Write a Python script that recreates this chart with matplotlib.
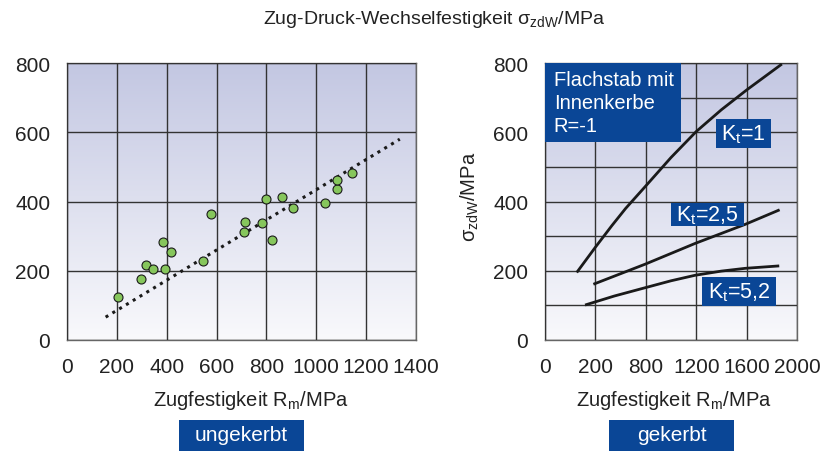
import numpy as np
import matplotlib
matplotlib.use("Agg")
import matplotlib.pyplot as plt
from matplotlib import font_manager
from matplotlib.colors import LinearSegmentedColormap
from matplotlib.patches import Rectangle

# ---------------- data ----------------
# left: unnotched specimens (scatter) and fitted trend line
rm_points = [206, 296, 316, 345, 385, 392, 416, 545, 577, 711, 716, 783,
             800, 821, 863, 906, 1034, 1083, 1083, 1145]
szdw_points = [123, 175, 216, 204, 283, 204, 254, 227, 363, 313, 342, 337,
               408, 289, 414, 380, 395, 437, 462, 482]
trend_rm = [155, 1335]
trend_szdw = [66, 580]

# right: notched flat bar, curves per Kt
kt1_rm = [252, 400, 530, 640, 800, 1000, 1200, 1400, 1600, 1880]
kt1_s = [195, 268, 330, 380, 445, 527, 602, 665, 722, 797]
kt25_rm = [384, 795, 1192, 1589, 1862]
kt25_s = [161, 219, 279, 334, 376]
kt52_rm = [318, 550, 795, 1000, 1192, 1400, 1589, 1859]
kt52_s = [101, 127, 151, 171, 187, 199, 207, 214]

left_xticks = [0, 200, 400, 600, 800, 1000, 1200, 1400]
left_xticklabels = ["0", "200", "400", "600", "800", "1000", "1200", "1400"]
yticks = [0, 200, 400, 600, 800]
yticklabels = ["0", "200", "400", "600", "800"]
right_xticks = [0, 400, 800, 1200, 1600, 2000]
right_xticklabels = ["0", "200", "800", "1200", "1600", "2000"]

title_text = r"Zug-Druck-Wechselfestigkeit σ$_{\mathrm{zdW}}$/MPa"
xlabel_text = r"Zugfestigkeit R$_{\mathrm{m}}$/MPa"
ylabel_text = r"σ$_{\mathrm{zdW}}$/MPa"
box_text = "Flachstab mit\nInnenkerbe\nR=-1"
kt_labels = [r"K$_{\mathrm{t}}$=1", r"K$_{\mathrm{t}}$=2,5", r"K$_{\mathrm{t}}$=5,2"]
bottom_labels = ["ungekerbt", "gekerbt"]

# ---------------- fonts ----------------
def has_font(name):
    try:
        font_manager.findfont(font_manager.FontProperties(family=name),
                              fallback_to_default=False)
        return True
    except Exception:
        return False

main_font = "Liberation Sans" if has_font("Liberation Sans") else "DejaVu Sans"

plt.rcParams["font.family"] = [main_font, "DejaVu Sans"]
plt.rcParams["mathtext.fontset"] = "custom"
plt.rcParams["mathtext.rm"] = main_font
plt.rcParams["mathtext.it"] = main_font + ":italic"
plt.rcParams["mathtext.bf"] = main_font + ":bold"
plt.rcParams["mathtext.sf"] = main_font

BLUE = "#0a4696"
GRID = "#333333"
TXT = "#222222"

fig = plt.figure(figsize=(8.39, 4.52), dpi=100)
W, H = 839.0, 452.0

def px_axes(x0, x1, y0, y1):
    return fig.add_axes([x0 / W, 1 - y1 / H, (x1 - x0) / W, (y1 - y0) / H])

cmap = LinearSegmentedColormap.from_list("bg", ["#f9f9fc", "#c3c7e2"])

def style_axes(ax):
    grad = np.linspace(0, 1, 256)[:, None]
    ax.imshow(grad, extent=[0, 1, 0, 1], transform=ax.transAxes, origin="lower",
              aspect="auto", cmap=cmap, zorder=0, interpolation="bicubic")
    for s in ax.spines.values():
        s.set_color("#666666")
        s.set_linewidth(1.0)
    ax.tick_params(length=0, labelsize=15, colors=TXT, pad=12)
    ax.grid(True, which="both", color=GRID, linewidth=1.0, zorder=1)
    ax.set_axisbelow(False)

# ---------------- left panel ----------------
axL = px_axes(67, 416, 64, 341)
style_axes(axL)
axL.plot(trend_rm, trend_szdw, color="#1a1a1a", linestyle=(0, (1, 1.6)),
         linewidth=2.2, zorder=3)
axL.scatter(rm_points, szdw_points, s=42, facecolor="#86c65c", edgecolor="#1a1a1a",
            linewidth=0.8, zorder=4)
axL.set_xlim(0, 1400)
axL.set_ylim(0, 800)
axL.set_xticks(left_xticks)
axL.set_xticklabels(left_xticklabels)
axL.set_yticks(yticks)
axL.set_yticklabels(yticklabels)

# ---------------- right panel ----------------
axR = px_axes(545, 797, 64, 341)
style_axes(axR)
for xs, ys in [(kt1_rm, kt1_s), (kt25_rm, kt25_s), (kt52_rm, kt52_s)]:
    axR.plot(xs, ys, color="#1a1a1a", linewidth=2.0, solid_capstyle="butt", zorder=3)
axR.set_xlim(0, 2000)
axR.set_ylim(0, 800)
axR.set_xticks(right_xticks)
axR.set_xticklabels(right_xticklabels)
axR.set_yticks(yticks)
axR.set_yticklabels(yticklabels)
axR.set_yticks(np.arange(100, 800, 200), minor=True)
axR.tick_params(which="minor", length=0)

# boxes inside right panel (axes fractions)
def box(ax, x0, x1, y0, y1, text, fs, ha="center", tx=None, ls=1.2):
    ax.add_patch(Rectangle((x0, y0), x1 - x0, y1 - y0, transform=ax.transAxes,
                           facecolor=BLUE, edgecolor="none", zorder=5, clip_on=False))
    if tx is None:
        tx = (x0 + x1) / 2
    ax.text(tx, (y0 + y1) / 2, text, transform=ax.transAxes, ha=ha, va="center",
            color="white", fontsize=fs, zorder=6, linespacing=ls)

box(axR, 0.0, 0.54, 0.715, 1.0, box_text, 14.5, ha="left", tx=0.035, ls=1.25)
box(axR, 0.679, 0.897, 0.693, 0.798, kt_labels[0], 15.5)
box(axR, 0.50, 0.79, 0.412, 0.495, kt_labels[1], 15.5)
box(axR, 0.623, 0.917, 0.123, 0.227, kt_labels[2], 15.5)

# ---------------- texts ----------------
fig.text(434.5 / W, 1 - 19 / H, title_text, ha="center", va="center",
         fontsize=14, color=TXT)
fig.text(251 / W, 1 - 401 / H, xlabel_text, ha="center", va="center",
         fontsize=14.5, color=TXT)
fig.text(674 / W, 1 - 401 / H, xlabel_text, ha="center", va="center",
         fontsize=14.5, color=TXT)
fig.text(470 / W, 1 - 197 / H, ylabel_text, ha="center", va="center",
         rotation=90, fontsize=14.5, color=TXT)
fig.text(-8 / W, 1 - 190 / H, ylabel_text, ha="center", va="center",
         rotation=90, fontsize=14.5, color=TXT)

for (x0, x1), lab in zip([(179, 304), (609, 734)], bottom_labels):
    fig.patches.append(Rectangle((x0 / W, 0), (x1 - x0) / W, 31 / H,
                                 transform=fig.transFigure, facecolor=BLUE,
                                 edgecolor="none"))
    fig.text((x0 + x1) / 2 / W, 1 - 436 / H, lab, ha="center", va="center",
             color="white", fontsize=15)

fig.savefig("out.png", dpi=100, facecolor="white")
